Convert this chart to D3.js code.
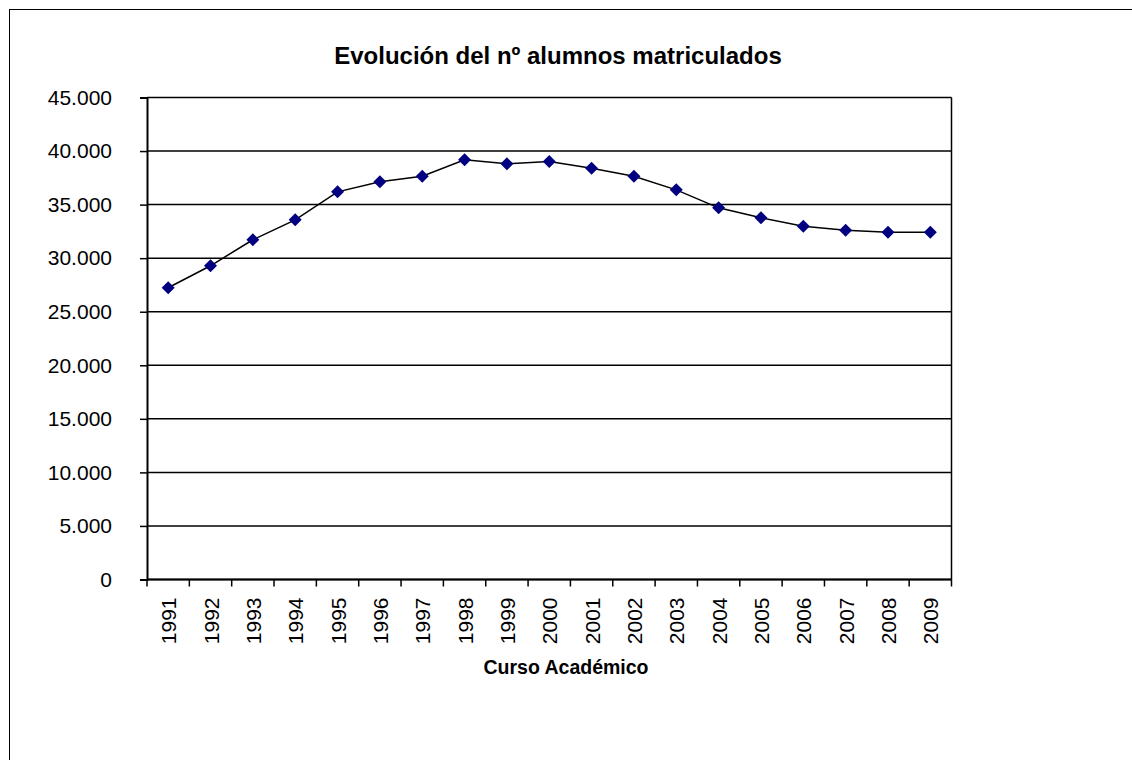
<!DOCTYPE html>
<html>
<head>
<meta charset="utf-8">
<script src="https://cdn.jsdelivr.net/npm/d3@7"></script>
<style>
    body { margin: 0; background: #fff; }
    svg { font-family: "Liberation Sans", Arial, sans-serif; }
</style>
</head>
<body>
<div id="chart"></div>
<script>
var years = ['1991', '1992', '1993', '1994', '1995', '1996', '1997', '1998', '1999', '2000',
    '2001', '2002', '2003', '2004', '2005', '2006', '2007', '2008', '2009'];
var alumnos = [27240, 29290, 31720, 33580, 36190, 37130, 37650, 39180, 38810, 39020,
    38400, 37650, 36380, 34700, 33770, 32990, 32610, 32430, 32430];
var yTicks = [0, 5000, 10000, 15000, 20000, 25000, 30000, 35000, 40000, 45000];

var width = 1132, height = 760;
var margin = { top: 97.5, right: 180.5, bottom: 180.5, left: 147 };

var svg = d3.select('#chart')
    .append('svg')
    .attr('width', width)
    .attr('height', height);

// outer chart frame (runs off the right and bottom edge)
svg.append('rect')
    .attr('x', 9.5).attr('y', 9.5)
    .attr('width', width + 20).attr('height', height + 20)
    .attr('fill', 'none').attr('stroke', '#000').attr('stroke-width', 1);

var w = width - margin.left - margin.right;
var h = height - margin.top - margin.bottom;
var graph = svg.append('g').attr('transform', 'translate(' + margin.left + ',' + margin.top + ')');

var x = d3.scaleBand().domain(years).range([0, w]);
var y = d3.scaleLinear().domain([0, 45000]).range([h, 0]);

var fmt = function(d) {
    return d3.format(',')(d).replace(/,/g, '.');
};

// gridlines
graph.append('g')
    .selectAll('line')
    .data(yTicks)
    .enter().append('line')
    .attr('x1', 0).attr('x2', w)
    .attr('y1', function(d) { return y(d); })
    .attr('y2', function(d) { return y(d); })
    .attr('stroke', '#000').attr('stroke-width', 1.5);

// right edge of plot area
graph.append('line')
    .attr('x1', w).attr('x2', w).attr('y1', 0).attr('y2', h)
    .attr('stroke', '#000').attr('stroke-width', 1.5);

// y axis
var yAxis = graph.append('g')
    .call(d3.axisLeft(y).tickValues(yTicks).tickFormat(fmt).tickSize(7).tickPadding(28));
yAxis.select('.domain').attr('stroke-width', 2);
yAxis.selectAll('line').attr('stroke-width', 1.5);
yAxis.selectAll('text').attr('font-size', 21).attr('fill', '#000')
    .attr('font-family', '"Liberation Sans", Arial, sans-serif');

// x axis: ticks between categories
var xAxis = graph.append('g').attr('transform', 'translate(0,' + h + ')');
xAxis.append('line').attr('x1', 0).attr('x2', w).attr('stroke', '#000').attr('stroke-width', 2);
xAxis.selectAll('.tick')
    .data(d3.range(years.length + 1))
    .enter().append('line')
    .attr('x1', function(i) { return i * x.step(); })
    .attr('x2', function(i) { return i * x.step(); })
    .attr('y1', 0).attr('y2', 7)
    .attr('stroke', '#000').attr('stroke-width', 1.5);
xAxis.selectAll('text')
    .data(years)
    .enter().append('text')
    .attr('transform', function(d) {
        return 'translate(' + (x(d) + x.bandwidth() / 2 + 8) + ',18) rotate(-90)';
    })
    .attr('text-anchor', 'end')
    .attr('font-size', 21)
    .text(function(d) { return d; });

// line + markers
var line = d3.line()
    .x(function(d, i) { return x(years[i]) + x.bandwidth() / 2; })
    .y(function(d) { return y(d); });

graph.append('path')
    .datum(alumnos)
    .attr('fill', 'none')
    .attr('stroke', '#000')
    .attr('stroke-width', 1.5)
    .attr('d', line);

graph.selectAll('.marker')
    .data(alumnos)
    .enter().append('path')
    .attr('class', 'marker')
    .attr('transform', function(d, i) {
        return 'translate(' + (x(years[i]) + x.bandwidth() / 2) + ',' + y(d) + ')';
    })
    .attr('d', 'M0,-6.5L6.5,0L0,6.5L-6.5,0Z')
    .attr('fill', '#000080');

// titles
svg.append('text')
    .attr('x', 558).attr('y', 64)
    .attr('text-anchor', 'middle')
    .attr('font-size', 24).attr('font-weight', 'bold')
    .text('Evolución del nº alumnos matriculados');

svg.append('text')
    .attr('x', 566).attr('y', 674)
    .attr('text-anchor', 'middle')
    .attr('font-size', 19.5).attr('font-weight', 'bold')
    .text('Curso Académico');
</script>
</body>
</html>
